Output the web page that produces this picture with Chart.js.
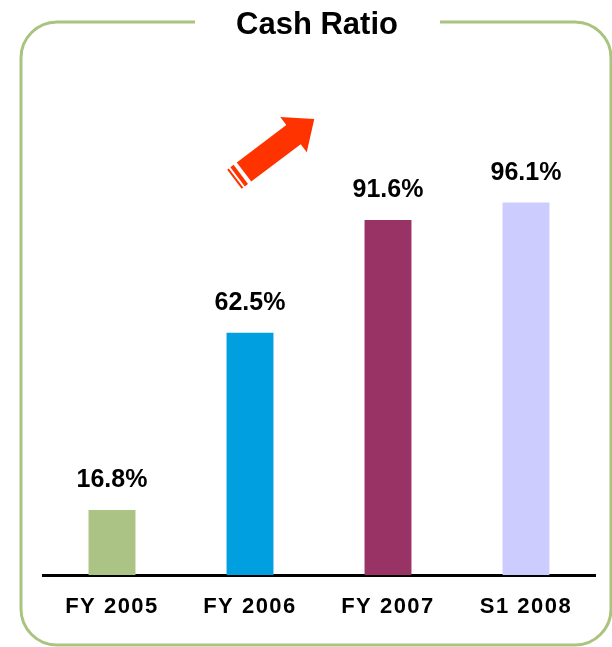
<!DOCTYPE html>
<html>
<head>
<meta charset="utf-8">
<script src="https://cdn.jsdelivr.net/npm/chart.js@4/dist/chart.umd.min.js"></script>
<style>
  html, body { margin: 0; padding: 0; background: #fff; }
  #wrap { width: 612px; height: 647px; position: relative; }
</style>
</head>
<body>
<div id="wrap"><canvas id="cashChart"></canvas></div>
<script>
const categories = ['FY 2005', 'FY 2006', 'FY 2007', 'S1 2008'];
const cashRatio = [16.8, 62.5, 91.6, 96.1];
const barColors = ['#abc385', '#009fe0', '#993366', '#ccccff'];
const chartTitle = 'Cash Ratio';

const FONT = '"Liberation Sans", Arial, sans-serif';

// frame, title and arrow decoration
const framePlugin = {
  id: 'frame',
  beforeDraw(chart) {
    const ctx = chart.ctx;
    ctx.save();
    ctx.strokeStyle = '#aac480';
    ctx.lineWidth = 3;
    const x0 = 21, y0 = 22, x1 = 611, y1 = 645, r = 36;
    ctx.beginPath();
    ctx.moveTo(195, y0);
    ctx.lineTo(x0 + r, y0);
    ctx.arcTo(x0, y0, x0, y0 + r, r);
    ctx.lineTo(x0, y1 - r);
    ctx.arcTo(x0, y1, x0 + r, y1, r);
    ctx.lineTo(x1 - r, y1);
    ctx.arcTo(x1, y1, x1, y1 - r, r);
    ctx.lineTo(x1, y0 + r);
    ctx.arcTo(x1, y0, x1 - r, y0, r);
    ctx.lineTo(440, y0);
    ctx.stroke();

    ctx.fillStyle = '#000';
    ctx.font = 'bold 31px ' + FONT;
    ctx.textAlign = 'center';
    ctx.textBaseline = 'alphabetic';
    ctx.fillText(chartTitle, 317, 34);

    // arrow
    ctx.translate(244, 172);
    ctx.rotate(-37 * Math.PI / 180);
    ctx.fillStyle = '#ff3300';
    ctx.beginPath();
    ctx.moveTo(0, -12);
    ctx.lineTo(62, -12);
    ctx.lineTo(62, -22);
    ctx.lineTo(88, 0);
    ctx.lineTo(62, 22);
    ctx.lineTo(62, 12);
    ctx.lineTo(0, 12);
    ctx.closePath();
    ctx.fill();
    ctx.fillRect(-8, -12, 4, 24);
    ctx.fillRect(-12, -12, 2, 24);
    ctx.restore();

    // spaced category labels
    ctx.letterSpacing = '1.5px';
  },
  beforeDatasetsDraw(chart) {
    chart.ctx.letterSpacing = '0px';
  }
};

const valueLabels = {
  id: 'valueLabels',
  afterDatasetsDraw(chart) {
    const ctx = chart.ctx;
    const meta = chart.getDatasetMeta(0);
    ctx.save();
    ctx.fillStyle = '#000';
    ctx.font = 'bold 25px ' + FONT;
    ctx.textAlign = 'center';
    ctx.textBaseline = 'alphabetic';
    meta.data.forEach((bar, i) => {
      ctx.fillText(cashRatio[i].toFixed(1) + '%', bar.x, bar.y - 23);
    });
    ctx.restore();
  }
};

document.addEventListener('DOMContentLoaded', () => {
  const ctx = document.getElementById('cashChart').getContext('2d');
  new Chart(ctx, {
    type: 'bar',
    data: {
      labels: categories,
      datasets: [{
        data: cashRatio,
        backgroundColor: barColors,
        borderWidth: 0,
        barPercentage: 0.34,
        categoryPercentage: 1
      }]
    },
    options: {
      responsive: true,
      maintainAspectRatio: false,
      animation: false,
      layout: { padding: { left: 43, right: 17, top: 110, bottom: 0 } },
      scales: {
        x: {
          afterFit: (s) => { s.height = 72; },
          grid: { display: false, drawTicks: false },
          border: { display: true, color: '#000', width: 3 },
          ticks: {
            color: '#000',
            padding: 19,
            font: { family: FONT, size: 22, weight: 'bold' }
          }
        },
        y: {
          display: false,
          min: 0,
          max: 120
        }
      },
      plugins: {
        legend: { display: false },
        tooltip: { enabled: false }
      }
    },
    plugins: [framePlugin, valueLabels]
  });
});
</script>
</body>
</html>
